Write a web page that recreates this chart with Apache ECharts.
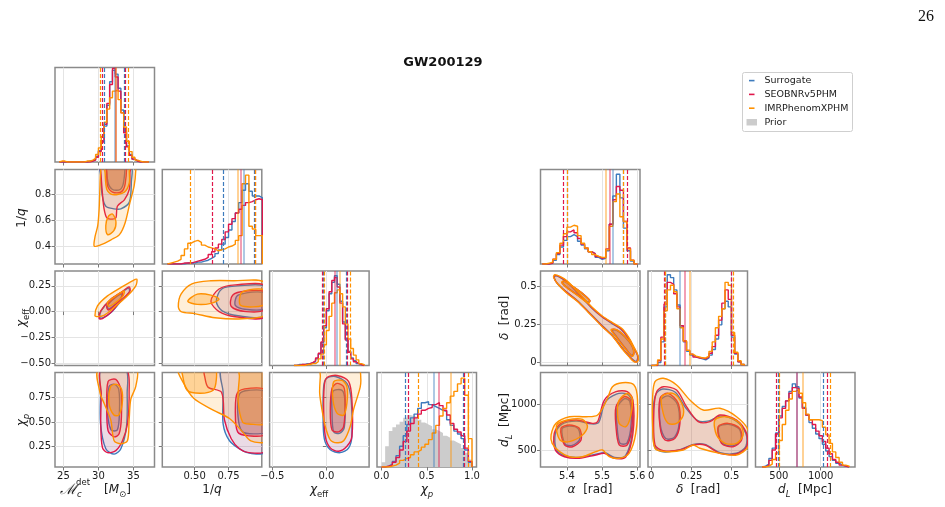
<!DOCTYPE html>
<html>
<head>
<meta charset="utf-8">
<script src="https://cdn.jsdelivr.net/npm/echarts@6/dist/echarts.min.js"></script>
<style>
  html, body { margin: 0; padding: 0; background: #fff; }
  #main { width: 945px; height: 507px; }
</style>
</head>
<body>
<div id="main"></div>
<script>
// ---------- data ----------
const modelNames = ['Surrogate', 'SEOBNRv5PHM', 'IMRPhenomXPHM'];

// axis ranges and ticks
const mcRange = [23.8, 38];
const mcTicks = [25, 30, 35];
const mcTickLabels = ['25', '30', '35'];
const qRange = [0.262, 0.995];
const qTicksX = [0.5, 0.75];
const qTickLabelsX = ['0.50', '0.75'];
const qTicksY = [0.4, 0.6, 0.8];
const qTickLabelsY = ['0.4', '0.6', '0.8'];
const ceRange = [-0.525, 0.395];
const ceTicksX = [-0.5, 0];
const ceTickLabelsX = ['\u22120.5', '0.0'];
const ceTicksY = [-0.5, -0.25, 0, 0.25];
const ceTickLabelsY = ['\u22120.50', '\u22120.25', '0.00', '0.25'];
const cpRange = [0.045, 1.0];
const cpHistRange = [-0.05, 1.05];
const cpTicksX = [0, 0.5, 1];
const cpTickLabelsX = ['0.0', '0.5', '1.0'];
const cpTicksY = [0.25, 0.5, 0.75];
const cpTickLabelsY = ['0.25', '0.50', '0.75'];
const raRange = [5.325, 5.607];
const raTicks = [5.4, 5.5, 5.6];
const raTickLabels = ['5.4', '5.5', '5.6'];
const decRange = [-0.02, 0.60];
const decTicks = [0, 0.25, 0.5];
const decTickLabels = ['0', '0.25', '0.5'];
const dlRange = [315, 1345];
const dlHistRange = [220, 1410];
const dlTicks = [500, 1000];
const dlTickLabels = ['500', '1000'];

// histograms: first bin edge, bin width, heights (fraction of panel height)
const mcStart = 24.4, mcWidth = 0.4;
const mcSur  = [0,0,0,0, 0,0,0,0,0,0,0.01,0.01,0.03,0.06,0.12,0.22,0.38,0.60,0.85,0.97,0.93,0.78,0.55,0.33,0.17,0.08,0.03,0.01,0,0,0,0];
const mcSeob = [0,0,0,0, 0,0,0,0,0,0,0,0.01,0.02,0.05,0.11,0.21,0.40,0.62,0.82,0.99,0.90,0.75,0.52,0.31,0.16,0.07,0.03,0.01,0,0,0,0];
const mcImr  = [0.01,0.01,0,0, 0,0,0,0,0,0.01,0.01,0.02,0.04,0.08,0.15,0.27,0.42,0.56,0.68,0.75,0.76,0.66,0.52,0.37,0.22,0.11,0.05,0.02,0.01,0,0,0];

const qStart = 0.30, qWidth = 0.025;
const qSur  = [0,0,0,0,0,0.01,0.01,0.01,0.02,0.02,0.03,0.04,0.06,0.08,0.11,0.15,0.21,0.28,0.36,0.45,0.54,0.65,0.78,0.85,0.77,0.72,0.72,0.70];
const qSeob = [0,0,0,0,0.01,0.01,0.01,0.02,0.03,0.04,0.05,0.07,0.10,0.13,0.17,0.21,0.26,0.34,0.42,0.48,0.54,0.58,0.62,0.65,0.66,0.68,0.69,0.68];
const qImr  = [0.01,0.02,0.03,0.05,0.09,0.16,0.22,0.24,0.25,0.23,0.20,0.18,0.17,0.16,0.14,0.15,0.16,0.18,0.19,0.21,0.25,0.30,0.85,0.94,0.40,0.37,0.30,0.30];

const ceStart = -0.30, ceWidth = 0.025;
const ceSur  = [0,0.01,0.01,0.01,0.02,0.02,0.03,0.04,0.07,0.12,0.24,0.40,0.58,0.76,0.88,0.95,0.86,0.68,0.46,0.28,0.15,0.08,0.05,0.02,0.01,0];
const ceSeob = [0,0,0.01,0.01,0.01,0.02,0.03,0.05,0.08,0.13,0.25,0.42,0.60,0.78,0.90,0.93,0.83,0.66,0.44,0.27,0.14,0.07,0.04,0.02,0.01,0];
const ceImr  = [0,0,0,0,0.01,0.01,0.02,0.02,0.04,0.07,0.12,0.22,0.37,0.52,0.66,0.77,0.80,0.76,0.62,0.44,0.28,0.18,0.11,0.06,0.02,0.01];

const cpStart = 0, cpWidth = 0.04;
const cpPrior = [0.05,0.22,0.38,0.42,0.45,0.48,0.52,0.55,0.54,0.53,0.50,0.47,0.45,0.43,0.40,0.38,0.36,0.33,0.31,0.28,0.26,0.24,0.20,0.15,0.08];
const cpSur  = [0,0.01,0.03,0.06,0.12,0.22,0.33,0.45,0.52,0.56,0.62,0.68,0.69,0.66,0.64,0.62,0.60,0.59,0.50,0.44,0.38,0.35,0.30,0.18,0.05];
const cpSeob = [0,0.01,0.02,0.05,0.10,0.18,0.27,0.38,0.46,0.52,0.56,0.60,0.62,0.63,0.66,0.68,0.65,0.60,0.55,0.46,0.40,0.37,0.33,0.20,0.06];
const cpImr  = [0,0,0.01,0.02,0.04,0.07,0.09,0.10,0.13,0.16,0.18,0.21,0.24,0.29,0.36,0.44,0.54,0.62,0.68,0.75,0.80,0.88,0.94,0.76,0.30];

const raStart = 5.33, raWidth = 0.01;
const raSur  = [0,0,0.01,0.04,0.10,0.18,0.25,0.29,0.31,0.29,0.24,0.20,0.16,0.13,0.11,0.07,0.05,0.06,0.14,0.42,0.72,0.95,0.70,0.38,0.14,0.03,0];
const raSeob = [0,0,0.01,0.05,0.11,0.20,0.29,0.34,0.36,0.33,0.27,0.21,0.17,0.13,0.11,0.08,0.06,0.07,0.16,0.42,0.68,0.82,0.78,0.45,0.17,0.04,0];
const raImr  = [0,0.01,0.02,0.05,0.12,0.22,0.32,0.39,0.41,0.40,0.30,0.22,0.17,0.13,0.10,0.08,0.07,0.07,0.15,0.40,0.66,0.74,0.50,0.45,0.16,0.04,0];

const decStart = 0, decWidth = 0.02;
const decSur  = [0,0,0.03,0.25,0.62,0.96,0.93,0.80,0.64,0.42,0.25,0.15,0.11,0.09,0.08,0.07,0.06,0.08,0.11,0.17,0.28,0.43,0.60,0.68,0.62,0.30,0.12,0.04,0.01];
const decSeob = [0,0,0.05,0.30,0.65,0.88,0.86,0.76,0.62,0.42,0.26,0.16,0.12,0.09,0.08,0.08,0.07,0.09,0.13,0.20,0.32,0.48,0.66,0.80,0.70,0.32,0.13,0.04,0.01];
const decImr  = [0,0.01,0.06,0.28,0.58,0.80,0.85,0.78,0.60,0.40,0.26,0.16,0.12,0.10,0.09,0.08,0.08,0.10,0.15,0.25,0.40,0.52,0.60,0.88,0.85,0.35,0.14,0.05,0.01];

const dlStart = 300, dlWidth = 40;
const dlSur  = [0.01,0.03,0.09,0.20,0.36,0.54,0.64,0.70,0.80,0.88,0.85,0.73,0.63,0.55,0.47,0.41,0.35,0.30,0.24,0.17,0.11,0.07,0.04,0.02,0.01,0];
const dlSeob = [0,0.02,0.07,0.18,0.35,0.52,0.62,0.70,0.78,0.84,0.83,0.74,0.62,0.55,0.50,0.45,0.38,0.33,0.27,0.20,0.14,0.08,0.05,0.02,0.01,0];
const dlImr  = [0,0.01,0.03,0.08,0.15,0.28,0.45,0.60,0.72,0.80,0.82,0.78,0.68,0.56,0.50,0.50,0.50,0.49,0.42,0.34,0.25,0.16,0.10,0.05,0.02,0.01];

// 5% / median / 95% per model (Surrogate, SEOBNRv5PHM, IMRPhenomXPHM)
const mcQuant  = [[30.8, 32.3, 33.7], [30.6, 32.4, 33.8], [30.3, 32.5, 34.2]];
const qQuant   = [[0.707, 0.863, 0.945], [0.626, 0.839, 0.95], [0.472, 0.817, 0.955]];
const ceQuant  = [[-0.03, 0.098, 0.185], [-0.035, 0.082, 0.19], [-0.02, 0.122, 0.22]];
const cpQuant  = [[0.26, 0.58, 0.90], [0.30, 0.63, 0.92], [0.41, 0.77, 0.96]];
const raQuant  = [[5.397, 5.529, 5.562], [5.395, 5.524, 5.565], [5.399, 5.512, 5.563]];
const decQuant = [[0.085, 0.183, 0.504], [0.083, 0.206, 0.502], [0.087, 0.237, 0.506]];
const dlQuant  = [[492, 719, 1027], [473, 719, 1077], [500, 788, 1115]];

// credible contours: [model, level (0 = 90%, 1 = 50%), [[x, y], ...]]
const mcQContours = [
  ['sur', 0, [[30.3,1.03],[30.3,0.95],[30.55,0.79],[31.05,0.71],[32.2,0.69],[33.2,0.69],[34.4,0.74],[34.7,0.9],[34.6,1.03]]],
  ['sur', 1, [[31.3,1.03],[31.35,0.9],[32.0,0.84],[33.1,0.84],[33.6,0.9],[33.6,1.03]]],
  ['seob', 0, [[30.3,1.03],[30.35,0.97],[30.55,0.82],[30.8,0.69],[31.2,0.62],[32.0,0.61],[32.5,0.62],[32.7,0.71],[33.7,0.76],[34.4,0.84],[34.5,0.97],[34.5,1.03]]],
  ['seob', 1, [[31.2,1.03],[31.2,0.97],[31.3,0.87],[32.0,0.82],[33.2,0.82],[33.8,0.88],[33.8,1.03]]],
  ['imr', 0, [[30.6,1.03],[30.3,0.97],[30.2,0.84],[30.1,0.69],[29.9,0.56],[29.5,0.47],[29.4,0.40],[30.3,0.41],[31.8,0.45],[33.0,0.49],[33.8,0.58],[34.5,0.74],[35.1,0.87],[35.3,0.97],[35.2,1.03]]],
  ['imr', 1, [[30.95,1.03],[30.95,0.97],[31.2,0.84],[32.0,0.80],[33.7,0.82],[34.4,0.89],[34.4,0.98],[34.4,1.03]]],
  ['imr', 1, [[31.3,0.49],[32.2,0.52],[32.5,0.59],[32.0,0.65],[31.4,0.63],[31.05,0.56]]]
];
const mcCeContours = [
  ['sur', 0, [[30.2,-0.06],[30.4,0.01],[31.8,0.12],[33.2,0.18],[34.3,0.23],[34.4,0.19],[33.2,0.10],[31.8,-0.01],[30.7,-0.06]]],
  ['sur', 1, [[31.3,0.06],[32.3,0.13],[33.3,0.17],[33.2,0.13],[32.2,0.06],[31.45,0.025]]],
  ['seob', 0, [[30.1,-0.068],[30.33,0.006],[31.76,0.12],[33.19,0.185],[34.38,0.24],[34.5,0.2],[33.19,0.104],[31.76,-0.01],[30.57,-0.068]]],
  ['seob', 1, [[31.19,0.055],[32.24,0.136],[33.43,0.185],[33.3,0.136],[32.24,0.055],[31.38,0.016]]],
  ['imr', 0, [[29.5,-0.04],[29.86,0.055],[31.29,0.153],[33.19,0.234],[34.86,0.30],[35.48,0.315],[35.33,0.25],[34.14,0.153],[32.24,0.039],[30.8,-0.036],[29.86,-0.049]]],
  ['imr', 1, [[31.29,0.088],[32.48,0.153],[33.67,0.2],[33.5,0.15],[32.3,0.08],[31.5,0.05]]]
];
const mcCpContours = [
  ['sur', 0, [[30.4,1.03],[30.3,0.79],[30.3,0.48],[31.05,0.23],[32.24,0.175],[33.2,0.23],[34.0,0.45],[34.1,0.79],[33.9,1.03]]],
  ['sur', 1, [[31.52,0.86],[31.3,0.6],[31.8,0.42],[32.7,0.42],[33.0,0.6],[32.9,0.83],[32.3,0.88]]],
  ['seob', 0, [[30.33,1.03],[30.4,0.79],[30.33,0.48],[30.57,0.24],[31.29,0.19],[32.48,0.21],[33.43,0.31],[34.14,0.48],[34.38,0.79],[34.0,1.03]]],
  ['seob', 1, [[31.38,0.91],[31.19,0.65],[31.38,0.41],[32.24,0.35],[32.95,0.38],[33.28,0.55],[33.19,0.83],[32.48,0.93]]],
  ['imr', 0, [[30.0,1.03],[30.24,0.79],[30.8,0.69],[31.76,0.52],[32.24,0.31],[33.19,0.28],[34.14,0.31],[34.38,0.52],[34.62,0.73],[35.33,0.86],[35.4,1.03]]],
  ['imr', 1, [[31.76,0.86],[31.5,0.69],[32.2,0.57],[32.9,0.57],[33.4,0.69],[33.3,0.83],[32.6,0.88]]]
];
const qCeContours = [
  ['sur', 0, [[0.66,0.10],[0.70,0.22],[0.82,0.25],[1.02,0.24],[1.02,-0.04],[0.82,-0.04],[0.70,0.01]]],
  ['sur', 1, [[0.80,0.06],[0.82,0.16],[1.02,0.18],[1.02,0.03],[0.88,0.02]]],
  ['seob', 0, [[0.62,0.10],[0.68,0.22],[0.80,0.26],[1.02,0.25],[1.02,-0.05],[0.80,-0.05],[0.68,0.0]]],
  ['seob', 1, [[0.77,0.05],[0.78,0.16],[0.88,0.20],[1.02,0.19],[1.02,0.02],[0.88,0.0]]],
  ['imr', 0, [[0.38,0.05],[0.40,0.17],[0.48,0.27],[0.62,0.30],[0.78,0.30],[1.02,0.28],[1.02,-0.03],[0.85,-0.07],[0.65,-0.06],[0.50,-0.02],[0.40,0.0]]],
  ['imr', 1, [[0.45,0.10],[0.52,0.17],[0.62,0.16],[0.68,0.12],[0.62,0.08],[0.52,0.07]]],
  ['imr', 1, [[0.84,0.06],[0.85,0.19],[1.02,0.21],[1.02,0.07]]]
];
const qCpContours = [
  ['sur', 0, [[0.70,1.03],[0.71,0.8],[0.71,0.48],[0.757,0.31],[0.853,0.21],[0.92,0.18],[1.02,0.2],[1.02,1.03]]],
  ['sur', 1, [[0.83,0.78],[0.82,0.55],[0.853,0.40],[0.95,0.38],[1.02,0.4],[1.02,0.8],[0.9,0.82]]],
  ['seob', 0, [[0.577,1.03],[0.577,0.94],[0.6,0.85],[0.698,0.8],[0.72,0.52],[0.77,0.33],[0.83,0.23],[0.9,0.19],[1.02,0.21],[1.02,1.03]]],
  ['seob', 1, [[0.817,0.8],[0.8,0.62],[0.817,0.4],[0.9,0.36],[1.02,0.38],[1.02,0.82],[0.9,0.84]]],
  ['imr', 0, [[0.385,1.03],[0.42,0.89],[0.493,0.74],[0.637,0.62],[0.757,0.535],[0.853,0.40],[0.914,0.31],[1.02,0.31],[1.02,1.03]]],
  ['imr', 1, [[0.41,1.03],[0.41,0.98],[0.445,0.82],[0.541,0.79],[0.637,0.82],[0.66,0.93],[0.65,1.03]]],
  ['imr', 1, [[0.83,1.03],[0.83,0.96],[0.82,0.72],[0.853,0.5],[0.9,0.48],[1.02,0.49],[1.02,1.03]]]
];
const ceCpContours = [
  ['sur', 0, [[-0.025,0.86],[-0.031,0.59],[-0.019,0.33],[0.036,0.22],[0.128,0.19],[0.205,0.235],[0.236,0.355],[0.23,0.72],[0.19,0.89],[0.083,0.96],[0.0,0.94]]],
  ['sur', 1, [[0.061,0.81],[0.052,0.6],[0.067,0.40],[0.12,0.385],[0.165,0.44],[0.17,0.725],[0.145,0.82]]],
  ['seob', 0, [[-0.019,0.874],[-0.025,0.62],[-0.01,0.355],[0.036,0.238],[0.113,0.204],[0.19,0.255],[0.236,0.355],[0.236,0.725],[0.205,0.91],[0.098,0.97],[0.006,0.95]]],
  ['seob', 1, [[0.052,0.84],[0.036,0.62],[0.052,0.42],[0.113,0.40],[0.16,0.455],[0.174,0.725],[0.16,0.856],[0.098,0.89]]],
  ['imr', 0, [[-0.05,1.03],[-0.056,0.96],[-0.062,0.79],[-0.04,0.62],[-0.01,0.455],[0.036,0.32],[0.098,0.29],[0.16,0.31],[0.22,0.455],[0.25,0.62],[0.312,0.85],[0.318,0.94],[0.30,1.03]]],
  ['imr', 1, [[0.067,0.905],[0.061,0.725],[0.098,0.59],[0.16,0.57],[0.19,0.69],[0.19,0.856],[0.144,0.92]]]
];
const raDecContours = [
  ['sur', 0, [[5.364,0.555],[5.374,0.515],[5.40,0.46],[5.43,0.405],[5.46,0.335],[5.50,0.24],[5.53,0.175],[5.555,0.10],[5.575,0.045],[5.59,0.012],[5.598,0.01],[5.60,0.045],[5.588,0.10],[5.573,0.162],[5.553,0.218],[5.528,0.255],[5.50,0.298],[5.47,0.358],[5.44,0.432],[5.40,0.528],[5.38,0.558],[5.368,0.568]]],
  ['sur', 1, [[5.387,0.522],[5.402,0.488],[5.432,0.44],[5.46,0.394],[5.464,0.408],[5.44,0.458],[5.41,0.508],[5.392,0.532]]],
  ['sur', 1, [[5.528,0.21],[5.542,0.165],[5.566,0.092],[5.583,0.045],[5.589,0.062],[5.584,0.108],[5.564,0.168],[5.54,0.212]]],
  ['seob', 0, [[5.363,0.558],[5.373,0.517],[5.40,0.458],[5.43,0.402],[5.46,0.333],[5.50,0.238],[5.53,0.172],[5.555,0.097],[5.575,0.043],[5.59,0.008],[5.599,0.006],[5.601,0.043],[5.589,0.1],[5.574,0.163],[5.554,0.22],[5.529,0.257],[5.50,0.301],[5.47,0.361],[5.44,0.436],[5.40,0.531],[5.38,0.561],[5.366,0.571]]],
  ['seob', 1, [[5.386,0.523],[5.401,0.489],[5.431,0.44],[5.46,0.392],[5.465,0.406],[5.44,0.46],[5.41,0.51],[5.391,0.534]]],
  ['seob', 1, [[5.526,0.213],[5.541,0.165],[5.566,0.09],[5.584,0.042],[5.59,0.06],[5.585,0.109],[5.565,0.17],[5.54,0.215]]],
  ['imr', 0, [[5.362,0.56],[5.372,0.52],[5.40,0.454],[5.43,0.40],[5.46,0.33],[5.50,0.235],[5.53,0.17],[5.555,0.093],[5.575,0.04],[5.59,0.005],[5.60,0.005],[5.602,0.04],[5.59,0.10],[5.575,0.165],[5.555,0.224],[5.53,0.26],[5.50,0.305],[5.47,0.365],[5.44,0.44],[5.40,0.536],[5.38,0.565],[5.365,0.575]]],
  ['imr', 1, [[5.385,0.525],[5.40,0.49],[5.43,0.44],[5.46,0.39],[5.465,0.405],[5.44,0.46],[5.41,0.51],[5.39,0.535]]],
  ['imr', 1, [[5.525,0.215],[5.54,0.165],[5.565,0.09],[5.585,0.04],[5.59,0.06],[5.585,0.11],[5.565,0.17],[5.54,0.215]]]
];
const raDlContours = [
  ['sur', 0, [[5.367,680],[5.385,780],[5.426,815],[5.47,785],[5.49,800],[5.508,1020],[5.54,1110],[5.57,1112],[5.585,1030],[5.585,690],[5.566,440],[5.535,420],[5.508,470],[5.483,455],[5.435,420],[5.395,435],[5.37,505]]],
  ['sur', 1, [[5.386,730],[5.408,760],[5.432,730],[5.436,615],[5.415,550],[5.395,565]]],
  ['sur', 1, [[5.542,960],[5.563,1060],[5.578,1030],[5.582,790],[5.57,575],[5.55,575],[5.542,760]]],
  ['seob', 0, [[5.364,682],[5.383,791],[5.426,827],[5.472,791],[5.487,809],[5.506,1045],[5.539,1136],[5.571,1136],[5.587,1045],[5.587,682],[5.567,427],[5.534,410],[5.506,464],[5.482,446],[5.435,410],[5.393,427],[5.367,500]]],
  ['seob', 1, [[5.383,737],[5.407,773],[5.435,737],[5.44,609],[5.416,536],[5.393,555]]],
  ['seob', 1, [[5.539,972],[5.562,1082],[5.58,1045],[5.585,791],[5.571,555],[5.548,555],[5.539,754]]],
  ['imr', 0, [[5.355,664],[5.369,791],[5.407,863],[5.454,863],[5.487,882],[5.515,1064],[5.529,1190],[5.557,1234],[5.590,1209],[5.6,1045],[5.595,682],[5.576,464],[5.548,410],[5.52,427],[5.501,500],[5.482,482],[5.444,427],[5.407,427],[5.379,482],[5.358,573]]],
  ['imr', 1, [[5.371,773],[5.401,827],[5.444,835],[5.458,754],[5.444,664],[5.407,591],[5.38,609]]],
  ['imr', 1, [[5.548,1045],[5.571,1118],[5.585,1064],[5.58,863],[5.567,754],[5.548,791],[5.543,936]]]
];
const decDlContours = [
  ['sur', 0, [[0.03,1110],[0.072,1165],[0.15,1130],[0.215,960],[0.29,820],[0.36,818],[0.43,870],[0.53,815],[0.59,680],[0.59,540],[0.53,465],[0.43,470],[0.335,560],[0.262,560],[0.18,505],[0.075,480],[0.02,540],[0.012,930]]],
  ['sur', 1, [[0.058,1040],[0.106,1090],[0.163,1000],[0.174,790],[0.145,640],[0.09,625],[0.058,760]]],
  ['sur', 1, [[0.42,750],[0.48,780],[0.548,730],[0.558,612],[0.508,545],[0.44,580]]],
  ['seob', 0, [[0.034,1136],[0.075,1190],[0.158,1154],[0.22,972],[0.293,809],[0.366,809],[0.428,882],[0.532,827],[0.594,682],[0.594,536],[0.532,457],[0.428,464],[0.335,555],[0.262,555],[0.179,500],[0.075,493],[0.0235,555],[0.017,936]]],
  ['seob', 1, [[0.055,1064],[0.106,1118],[0.168,1009],[0.179,791],[0.148,627],[0.086,609],[0.055,754]]],
  ['seob', 1, [[0.417,754],[0.479,791],[0.552,736],[0.563,609],[0.51,536],[0.438,573]]],
  ['imr', 0, [[0.0235,1245],[0.075,1282],[0.158,1209],[0.241,1045],[0.324,936],[0.428,955],[0.532,863],[0.604,718],[0.604,536],[0.532,446],[0.428,464],[0.303,519],[0.262,555],[0.2,500],[0.096,482],[0.0235,519],[0.009,754],[0.009,1082]]],
  ['imr', 1, [[0.065,1082],[0.137,1118],[0.19,1009],[0.2,882],[0.158,791],[0.106,791],[0.075,900]]],
  ['imr', 1, [[0.397,827],[0.47,863],[0.552,791],[0.573,664],[0.532,573],[0.459,573],[0.407,664]]]
];

// ---------- style / layout ----------
const FONT = 'DejaVu Sans';
const COLORS = { sur: '#3d7bbd', seob: '#e0174b', imr: '#ff9100' };
const FILL_ALPHA = { sur: [0.10, 0.22], seob: [0.10, 0.22], imr: [0.15, 0.30] };
const MODEL_KEYS = ['sur', 'seob', 'imr'];
const PRIOR_COLOR = '#cccccc';
const LEFT_X = [55, 162.3, 269.6, 377];
const RIGHT_X = [540.5, 648, 755.5];
const ROW_Y = [67.5, 169.5, 271, 372.5];
const PW = 99.5, PH = 94.5;

function rgba(hex, a) {
  const n = parseInt(hex.slice(1), 16);
  return 'rgba(' + (n >> 16) + ',' + ((n >> 8) & 255) + ',' + (n & 255) + ',' + a + ')';
}

const grids = [], xAxes = [], yAxes = [], series = [];

function valueAxis(gi, range, ticks, labels, showLabels) {
  return {
    type: 'value', gridIndex: gi, min: range[0], max: range[1],
    axisLine: { show: false },
    axisTick: { show: true, customValues: ticks, length: 3.5, lineStyle: { color: '#7a7a7a', width: 1 } },
    axisLabel: {
      show: showLabels, customValues: ticks, fontSize: 10, color: '#1a1a1a', margin: 4, fontFamily: FONT,
      formatter: v => labels[ticks.indexOf(v)]
    },
    splitLine: { show: true, lineStyle: { color: '#e4e4e4', width: 1 } }
  };
}

function addGrid(left, top) {
  grids.push({ left: left, top: top, width: PW, height: PH, show: true, borderColor: '#8a8a8a', borderWidth: 1.5 });
  return grids.length - 1;
}

function histLine(gi, name, color, start, width, vals, quant) {
  const pts = [[start, 0]];
  vals.forEach((v, i) => pts.push([start + i * width, v]));
  pts.push([start + vals.length * width, vals[vals.length - 1]]);
  pts.push([start + vals.length * width, 0]);
  const s = {
    type: 'line', name: name, xAxisIndex: gi, yAxisIndex: gi, step: 'end', symbol: 'none',
    data: pts, clip: true, silent: true, animation: false,
    lineStyle: { color: color, width: 1.4 }, itemStyle: { color: color }, z: 3
  };
  if (quant) {
    s.markLine = {
      symbol: ['none', 'none'], silent: true, animation: false, label: { show: false },
      data: [
        { xAxis: quant[0], lineStyle: { color: color, type: [4, 2], width: 1.2 } },
        { xAxis: quant[1], lineStyle: { color: color, type: 'solid', width: 1.5, opacity: 0.55 } },
        { xAxis: quant[2], lineStyle: { color: color, type: [4, 2], width: 1.2 } }
      ]
    };
  }
  return s;
}

function histPanel(left, top, range, ticks, labels, showLabels, start, width, sets, quants, prior) {
  const gi = addGrid(left, top);
  xAxes.push(valueAxis(gi, range, ticks, labels, showLabels));
  yAxes.push({ type: 'value', gridIndex: gi, min: 0, max: 1, show: false });
  if (prior) {
    series.push({
      type: 'line', name: 'Prior', xAxisIndex: gi, yAxisIndex: gi, step: 'end', symbol: 'none',
      data: [[start, 0]].concat(prior.map((v, i) => [start + i * width, v]), [[start + prior.length * width, prior[prior.length - 1]], [start + prior.length * width, 0]]),
      lineStyle: { width: 0 }, areaStyle: { color: PRIOR_COLOR, opacity: 1 }, silent: true, animation: false, z: 2
    });
  }
  sets.forEach((vals, k) => {
    series.push(histLine(gi, modelNames[k], COLORS[MODEL_KEYS[k]], start, width, vals, quants[k]));
  });
}

function contourPanel(left, top, xr, xt, xl, showX, yr, yt, yl, showY, list) {
  const gi = addGrid(left, top);
  xAxes.push(valueAxis(gi, xr, xt, xl, showX));
  yAxes.push(valueAxis(gi, yr, yt, yl, showY));
  series.push({
    type: 'custom', xAxisIndex: gi, yAxisIndex: gi, clip: true, silent: true, animation: false, z: 3,
    data: list.map(c => c[2][0]),
    renderItem: function (params, api) {
      const c = list[params.dataIndex];
      const col = COLORS[c[0]];
      return {
        type: 'polygon',
        shape: { points: c[2].map(p => api.coord(p)), smooth: 0.3 },
        style: { fill: rgba(col, FILL_ALPHA[c[0]][c[1]]), stroke: col, lineWidth: 1.4 }
      };
    }
  });
}

// ---------- left corner plot ----------
histPanel(LEFT_X[0], ROW_Y[0], mcRange, mcTicks, mcTickLabels, false, mcStart, mcWidth, [mcSur, mcSeob, mcImr], mcQuant);
contourPanel(LEFT_X[0], ROW_Y[1], mcRange, mcTicks, mcTickLabels, false, qRange, qTicksY, qTickLabelsY, true, mcQContours);
histPanel(LEFT_X[1], ROW_Y[1], qRange, qTicksX, qTickLabelsX, false, qStart, qWidth, [qSur, qSeob, qImr], qQuant);
contourPanel(LEFT_X[0], ROW_Y[2], mcRange, mcTicks, mcTickLabels, false, ceRange, ceTicksY, ceTickLabelsY, true, mcCeContours);
contourPanel(LEFT_X[1], ROW_Y[2], qRange, qTicksX, qTickLabelsX, false, ceRange, ceTicksY, ceTickLabelsY, false, qCeContours);
histPanel(LEFT_X[2], ROW_Y[2], ceRange, ceTicksX, ceTickLabelsX, false, ceStart, ceWidth, [ceSur, ceSeob, ceImr], ceQuant);
contourPanel(LEFT_X[0], ROW_Y[3], mcRange, mcTicks, mcTickLabels, true, cpRange, cpTicksY, cpTickLabelsY, true, mcCpContours);
contourPanel(LEFT_X[1], ROW_Y[3], qRange, qTicksX, qTickLabelsX, true, cpRange, cpTicksY, cpTickLabelsY, false, qCpContours);
contourPanel(LEFT_X[2], ROW_Y[3], ceRange, ceTicksX, ceTickLabelsX, true, cpRange, cpTicksY, cpTickLabelsY, false, ceCpContours);
histPanel(LEFT_X[3], ROW_Y[3], cpHistRange, cpTicksX, cpTickLabelsX, true, cpStart, cpWidth, [cpSur, cpSeob, cpImr], cpQuant, cpPrior);

// ---------- right corner plot ----------
histPanel(RIGHT_X[0], ROW_Y[1], raRange, raTicks, raTickLabels, false, raStart, raWidth, [raSur, raSeob, raImr], raQuant);
contourPanel(RIGHT_X[0], ROW_Y[2], raRange, raTicks, raTickLabels, false, decRange, decTicks, decTickLabels, true, raDecContours);
histPanel(RIGHT_X[1], ROW_Y[2], decRange, decTicks, decTickLabels, false, decStart, decWidth, [decSur, decSeob, decImr], decQuant);
contourPanel(RIGHT_X[0], ROW_Y[3], raRange, raTicks, raTickLabels, true, dlRange, dlTicks, dlTickLabels, true, raDlContours);
contourPanel(RIGHT_X[1], ROW_Y[3], decRange, decTicks, decTickLabels, true, dlRange, dlTicks, dlTickLabels, false, decDlContours);
histPanel(RIGHT_X[2], ROW_Y[3], dlHistRange, dlTicks, dlTickLabels, true, dlStart, dlWidth, [dlSur, dlSeob, dlImr], dlQuant);

// ---------- text: axis names, title, legend ----------
const RICH = {
  n: { fontSize: 12, fontFamily: FONT, fill: '#1a1a1a', lineHeight: 18, verticalAlign: 'middle' },
  i: { fontSize: 12, fontFamily: FONT, fontStyle: 'italic', fill: '#1a1a1a', lineHeight: 18, verticalAlign: 'middle' },
  m: { fontSize: 15, fontFamily: 'DejaVu Serif', fontStyle: 'italic', fill: '#1a1a1a', lineHeight: 18, verticalAlign: 'middle' },
  s: { fontSize: 8.5, fontFamily: FONT, fontStyle: 'italic', fill: '#1a1a1a', lineHeight: 8, verticalAlign: 'bottom' },
  u: { fontSize: 8.5, fontFamily: FONT, fill: '#1a1a1a', lineHeight: 8, verticalAlign: 'bottom' }
};
function label(x, y, text, rotate) {
  return {
    type: 'text', x: x, y: y, rotation: rotate ? Math.PI / 2 : 0, silent: true,
    style: { text: text, rich: RICH, align: 'center', verticalAlign: 'middle', fill: '#1a1a1a' }
  };
}
const graphics = [
  { type: 'text', x: 443, y: 63, silent: true,
    style: { text: 'GW200129', font: 'bold 13px "DejaVu Sans"', fill: '#111', align: 'center', verticalAlign: 'middle' } },
  { type: 'text', x: 926, y: 17, silent: true,
    style: { text: '26', font: '16px "Liberation Serif"', fill: '#111', align: 'center', verticalAlign: 'middle' } },
  // bottom axis names
  { type: 'text', x: 60, y: 490, silent: true, style: { text: '{m|\u2133}{s|c}', rich: RICH, align: 'left', verticalAlign: 'middle' } },
  { type: 'text', x: 76, y: 483, silent: true, style: { text: 'det', font: '8.5px "DejaVu Sans"', fill: '#1a1a1a', align: 'left', verticalAlign: 'middle' } },
  { type: 'text', x: 104, y: 490, silent: true, style: { text: '{n|[}{i|M}{u|\u2299}{n|]}', rich: RICH, align: 'left', verticalAlign: 'middle' } },
  label(212, 490, '{n|1/}{i|q}'),
  label(319, 490, '{i|\u03c7}{u|eff}'),
  label(427, 490, '{i|\u03c7}{s|p}'),
  label(590, 490, '{i|\u03b1}{n|  [rad]}'),
  label(698, 490, '{i|\u03b4}{n|  [rad]}'),
  label(805, 490, '{i|d}{s|L}{n|  [Mpc]}'),
  // left axis names
  label(22, 218, '{n|1/}{i|q}', true),
  label(22, 318, '{i|\u03c7}{u|eff}', true),
  label(22, 420, '{i|\u03c7}{s|p}', true),
  label(505, 318, '{i|\u03b4}{n|  [rad]}', true),
  label(505, 420, '{i|d}{s|L}{n|  [Mpc]}', true),
  // legend
  { type: 'rect', silent: true, shape: { x: 742.5, y: 72.5, width: 110, height: 59, r: 2 },
    style: { fill: '#fff', stroke: '#cfcfcf', lineWidth: 1 } }
];
MODEL_KEYS.forEach((k, i) => {
  graphics.push({ type: 'rect', silent: true, shape: { x: 749, y: 79.8 + i * 13.8, width: 5.5, height: 1.6 }, style: { fill: COLORS[k] } });
  graphics.push({ type: 'text', silent: true, x: 764.5, y: 80.7 + i * 13.8,
    style: { text: modelNames[i], font: '9.5px "DejaVu Sans"', fill: '#1a1a1a', align: 'left', verticalAlign: 'middle' } });
});
graphics.push({ type: 'rect', silent: true, shape: { x: 746.5, y: 119, width: 10.5, height: 6.5 }, style: { fill: PRIOR_COLOR } });
graphics.push({ type: 'text', silent: true, x: 764.5, y: 122.1,
  style: { text: 'Prior', font: '9.5px "DejaVu Sans"', fill: '#1a1a1a', align: 'left', verticalAlign: 'middle' } });

const chart = echarts.init(document.getElementById('main'), null, { renderer: 'canvas' });
chart.setOption({
  animation: false,
  backgroundColor: '#ffffff',
  grid: grids,
  xAxis: xAxes,
  yAxis: yAxes,
  series: series,
  graphic: graphics
});
</script>
</body>
</html>
